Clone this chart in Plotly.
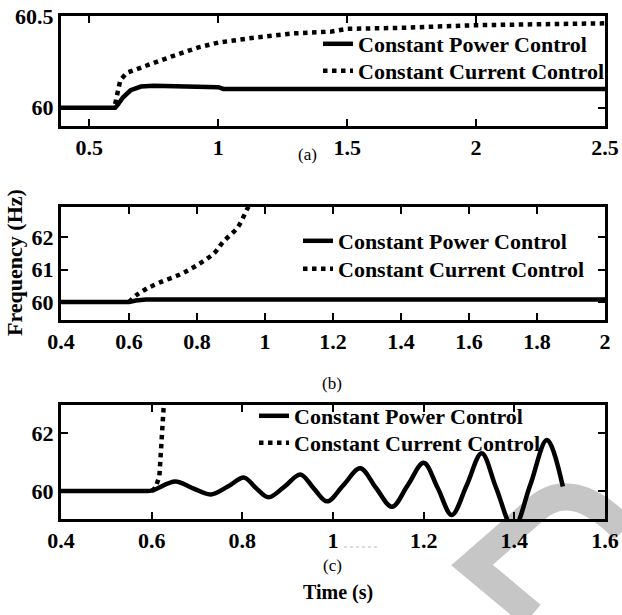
import plotly.graph_objects as go

# ---------------- data ----------------
# panel (a)
t_a_cp = [0.39, 0.5, 0.6, 0.61, 0.63, 0.66, 0.7, 0.75, 0.8, 0.9, 1.0, 1.02, 1.5, 2.0, 2.5]
f_a_cp = [60.0, 60.0, 60.0, 60.015, 60.055, 60.095, 60.115, 60.12, 60.118, 60.113, 60.112, 60.102, 60.102, 60.102, 60.102]
t_a_cc = [0.6, 0.61, 0.62, 0.645, 0.72, 0.82, 0.926, 1.0, 1.13, 1.29, 1.44, 1.5, 1.7, 1.85, 2.0, 2.5]
f_a_cc = [60.02, 60.1, 60.15, 60.19, 60.23, 60.28, 60.33, 60.355, 60.38, 60.405, 60.415, 60.43, 60.435, 60.445, 60.45, 60.46]

# panel (b)
t_b_cp = [0.4, 0.6, 0.62, 0.65, 2.0]
f_b_cp = [60.0, 60.0, 60.05, 60.08, 60.08]
t_b_cc = [0.6, 0.62, 0.65, 0.69, 0.75, 0.795, 0.85, 0.877, 0.92, 0.95, 0.97]
f_b_cc = [60.0, 60.2, 60.4, 60.6, 60.85, 61.1, 61.5, 61.85, 62.3, 62.9, 63.2]

# panel (c)
t_c_cp = [0.4, 0.5, 0.58, 0.6, 0.652, 0.69, 0.73, 0.768, 0.804, 0.83, 0.858, 0.893, 0.928, 0.957,
          0.987, 1.023, 1.06, 1.095, 1.13, 1.165, 1.2, 1.231, 1.262, 1.295, 1.328,
          1.36, 1.398, 1.435, 1.472, 1.507]
f_c_cp = [60.0, 60.0, 60.0, 60.01, 60.33, 60.1, 59.88, 60.15, 60.46, 60.1, 59.78, 60.15, 60.57, 60.1,
          59.64, 60.2, 60.78, 60.1, 59.45, 60.2, 60.97, 60.1, 59.17, 60.2, 61.3,
          60.1, 58.7, 60.2, 61.76, 60.15]
t_c_cc = [0.6, 0.608, 0.617, 0.621, 0.626, 0.628]
f_c_cc = [60.0, 60.1, 60.5, 61.5, 62.9, 63.3]

# tick labels
xa_ticks = [0.5, 1, 1.5, 2, 2.5]
xa_text = ["0.5", "1", "1.5", "2", "2.5"]
ya_ticks = [60, 60.5]
ya_text = ["60", "60.5"]
xb_ticks = [0.4, 0.6, 0.8, 1.0, 1.2, 1.4, 1.6, 1.8, 2.0]
xb_text = ["0.4", "0.6", "0.8", "1", "1.2", "1.4", "1.6", "1.8", "2"]
yb_ticks = [60, 61, 62]
yb_text = ["60", "61", "62"]
xc_ticks = [0.4, 0.6, 0.8, 1.0, 1.2, 1.4, 1.6]
xc_text = ["0.4", "0.6", "0.8", "1", "1.2", "1.4", "1.6"]
yc_ticks = [60, 62]
yc_text = ["60", "62"]

names = ["Constant Power Control", "Constant Current Control"]

# ---------------- figure ----------------
W, H = 622, 615
ML, MR = 61, 17
PW = W - ML - MR

def px(x):
    return (x - ML) / PW

def py(y):
    return 1 - y / H

SERIF = "Liberation Serif"
solid = dict(color="black", width=4.5)
dotted = dict(color="black", width=4.5, dash="dot")

fig = go.Figure()
fig.add_trace(go.Scatter(x=t_a_cp, y=f_a_cp, mode="lines", line=solid,
                         name=names[0], xaxis="x", yaxis="y", legend="legend"))
fig.add_trace(go.Scatter(x=t_a_cc, y=f_a_cc, mode="lines", line=dotted,
                         name=names[1], xaxis="x", yaxis="y", legend="legend2"))
fig.add_trace(go.Scatter(x=t_b_cp, y=f_b_cp, mode="lines", line=solid,
                         name=names[0], xaxis="x2", yaxis="y2", legend="legend3"))
fig.add_trace(go.Scatter(x=t_b_cc, y=f_b_cc, mode="lines", line=dict(**dotted, shape="spline"),
                         name=names[1], xaxis="x2", yaxis="y2", legend="legend4"))
fig.add_trace(go.Scatter(x=t_c_cp, y=f_c_cp, mode="lines", line=dict(**solid, shape="spline", smoothing=1),
                         name=names[0], xaxis="x3", yaxis="y3", legend="legend5"))
fig.add_trace(go.Scatter(x=t_c_cc, y=f_c_cc, mode="lines", line=dotted,
                         name=names[1], xaxis="x3", yaxis="y3", legend="legend6"))

tickfont = dict(family=SERIF, size=22, color="black", weight="bold")
axcommon = dict(showline=True, linecolor="black", linewidth=3, mirror="ticks",
                ticks="inside", ticklen=7, tickwidth=2, tickcolor="black",
                showgrid=False, zeroline=False, tickfont=tickfont, tickmode="array",
                automargin=False)

legfont = dict(family=SERIF, size=22, color="black", weight="bold")

def leg(text_x, row_y):
    return dict(font=legfont, bgcolor="rgba(0,0,0,0)", borderwidth=0,
                xanchor="left", yanchor="middle", itemwidth=30,
                x=px(text_x - 40), y=py(row_y))

fig.update_layout(
    width=W, height=H,
    margin=dict(l=ML, r=MR, t=0, b=0, autoexpand=False),
    paper_bgcolor="white", plot_bgcolor="white",
    xaxis=dict(domain=[0, 1], range=[0.39, 2.5], tickvals=xa_ticks, ticktext=xa_text, anchor="y", **axcommon),
    yaxis=dict(domain=[py(126), py(16)], range=[59.9, 60.5], tickvals=ya_ticks, ticktext=ya_text, anchor="x", **axcommon),
    xaxis2=dict(domain=[0, 1], range=[0.4, 2.0], tickvals=xb_ticks, ticktext=xb_text, anchor="y2", **axcommon),
    yaxis2=dict(domain=[py(320), py(207)], range=[59.45, 62.92], tickvals=yb_ticks, ticktext=yb_text, anchor="x2", **axcommon),
    xaxis3=dict(domain=[0, 1], range=[0.4, 1.6], tickvals=xc_ticks, ticktext=xc_text, anchor="y3", **axcommon),
    yaxis3=dict(domain=[py(519), py(405)], range=[59.03, 62.97], tickvals=yc_ticks, ticktext=yc_text, anchor="x3", **axcommon),
    legend=leg(358, 44),
    legend2=leg(358, 71),
    legend3=leg(338, 241),
    legend4=leg(338, 269),
    legend5=leg(294, 416),
    legend6=leg(294, 443),
    showlegend=True,
    hovermode=False,
)

labfont = dict(family=SERIF, size=17, color="black")
for txt, yy, xx in [("(a)", 155, 307), ("(b)", 383, 332), ("(c)", 565, 332)]:
    fig.add_annotation(text=txt, x=px(xx), y=py(yy), xref="paper", yref="paper",
                       showarrow=False, font=labfont, xanchor="center", yanchor="middle")
fig.add_annotation(text="Time (s)", x=px(338), y=py(592), xref="paper", yref="paper",
                   showarrow=False, font=dict(family=SERIF, size=20, color="black", weight="bold"),
                   xanchor="center", yanchor="middle")
fig.add_annotation(text="Frequency (Hz)", x=px(14), y=py(263), xref="paper", yref="paper",
                   showarrow=False, textangle=-90,
                   font=dict(family=SERIF, size=22, color="black", weight="bold"),
                   xanchor="center", yanchor="middle")

# faint dotted artifact near (c)
fig.add_shape(type="line", xref="paper", yref="paper", x0=px(344), x1=px(380), y0=py(547), y1=py(547),
              line=dict(color="#bbbbbb", width=1, dash="dot"), layer="below")

# grey watermark chevron (decoration)
path = "M{},{} L{},{} L{},{} Q{},{} {},{}".format(
    px(532), py(615), px(472), py(565), px(535), py(510),
    px(572), py(476), px(624), py(530))
fig.add_shape(type="path", path=path, xref="paper", yref="paper",
              line=dict(color="#c6c6c6", width=27), fillcolor="rgba(0,0,0,0)", layer="below")

fig.write_html("out.html",
               config={"displayModeBar": False, "staticPlot": True},
               post_script="document.body.style.margin='0px';"
                           "document.documentElement.style.overflow='hidden';"
                           "document.body.style.overflow='hidden';")
